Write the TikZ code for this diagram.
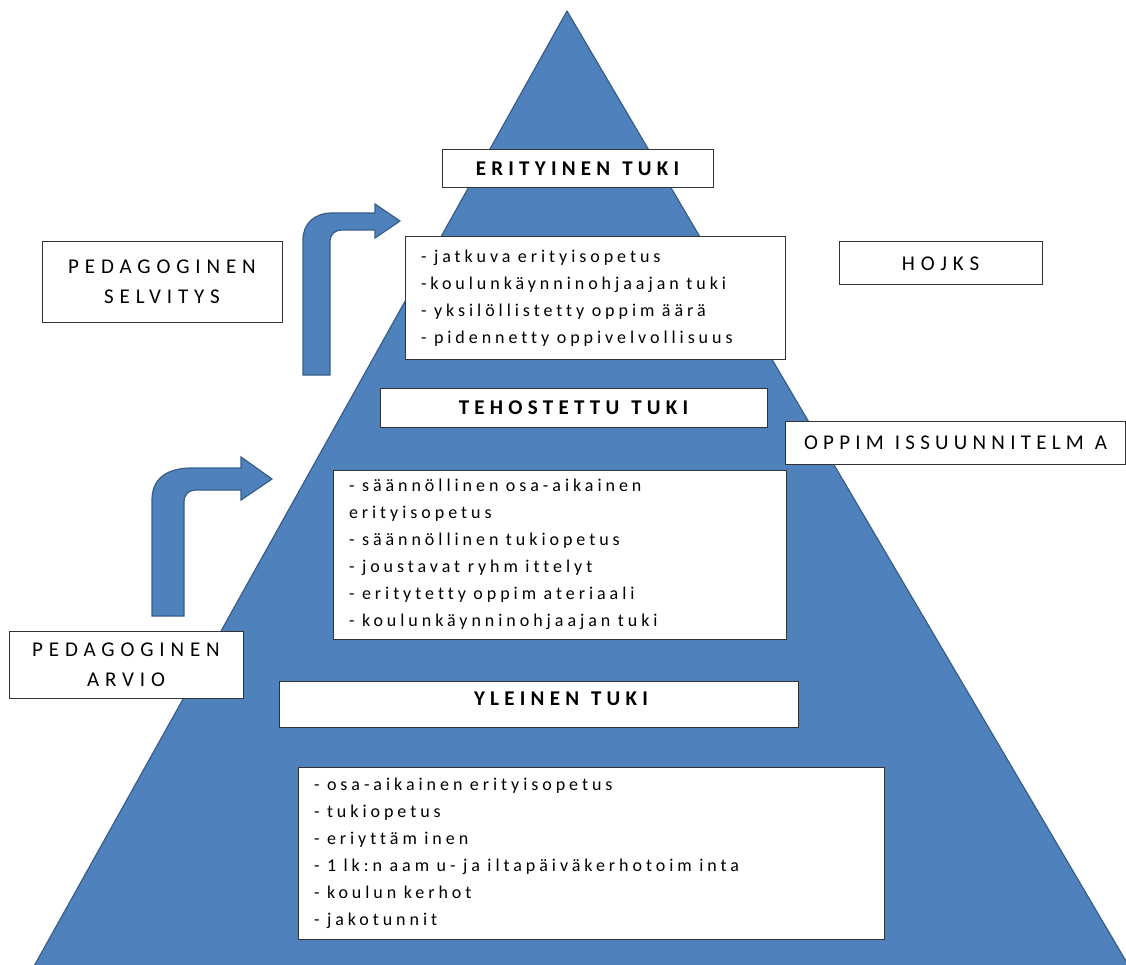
\documentclass[tikz,border=0pt]{standalone}
\usepackage{fontspec}
\setmainfont{Carlito}
\newfontfamily\listfont[LetterSpace=22,Ligatures=NoCommon]{Carlito}
\newfontfamily\capsfont[LetterSpace=25,Ligatures=NoCommon]{Carlito}
\newfontfamily\sidecapsfont[LetterSpace=28,Ligatures=NoCommon]{Carlito}
\newfontfamily\oppfont[LetterSpace=25,Ligatures=NoCommon]{Carlito}
\newcommand\mylistfont{\listfont\fontsize{18}{27}\selectfont}
\newcommand\mytierfont{\capsfont\bfseries\fontsize{21}{25}\selectfont}
\newcommand\mysidefont{\sidecapsfont\fontsize{21}{30}\selectfont}
\newcommand\myoppfont{\oppfont\fontsize{21}{30}\selectfont}
\newcommand\lgapx{\hspace*{7.5pt}}
\newcommand\tgapx{\hspace*{12pt}}
\newcommand\sgapx{\hspace*{11pt}}
\definecolor{pyrfill}{RGB}{79,129,189}
\definecolor{pyrline}{RGB}{56,93,138}
\begin{document}
\begin{tikzpicture}[x=1pt,y=-1pt,
  box/.style={draw=black!80, fill=white, line width=1pt, inner sep=0pt},
  capstext/.style={font=\mytierfont},
  tierbox/.style={box, capstext},
  sidebox/.style={box, align=center, font=\mysidefont},
  listbox/.style={box, align=left, inner xsep=16pt, font=\mylistfont},
  pyramid/.style={fill=pyrfill, draw=pyrline, line width=1.2pt, line join=round},
  bentarrow/.style={fill=pyrfill, draw=pyrline, line width=1.2pt}]
\useasboundingbox (0,0) rectangle (1126,965);
% pyramid
\draw[pyramid] (567,11) -- (1130,968) -- (33,968) -- cycle;
% bent arrows
\draw[bentarrow] (303,375) -- (303,240) .. controls (303,224) and (314,213) .. (332,213)
  -- (375,213) -- (375,204) -- (400,221) -- (375,238) -- (375,230) -- (342,230)
  .. controls (335,230) and (330,234) .. (330,242) -- (330,375) -- cycle;
\draw[bentarrow] (152,616) -- (152,500) .. controls (152,480) and (165,468) .. (192,468)
  -- (241,468) -- (241,457) -- (272,479) -- (241,500) -- (241,490) -- (196,490)
  .. controls (189,490) and (184,494) .. (184,502) -- (184,616) -- cycle;
% tier titles
\node[tierbox, minimum width=271pt, minimum height=38pt] (eri) at (577.5,169) {ERITYINEN\tgapx TUKI};
\node[tierbox, minimum width=387pt, minimum height=39pt] (teh) at (573.5,407.5) {TEHOSTETTU\tgapx TUKI};
\node[tierbox, minimum width=519pt, minimum height=46pt] (yle) at (538.5,704) {};
\node[capstext, inner sep=0pt] (yletxt) at (561,699) {YLEINEN\tgapx TUKI};
% side labels
\node[sidebox, minimum width=240pt, minimum height=80pt] (selv) at (162,282) {PEDAGOGINEN\\SELVITYS};
\node[sidebox, minimum width=234pt, minimum height=67pt] (arvio) at (126,664.5) {PEDAGOGINEN\\ARVIO};
\node[sidebox, minimum width=203pt, minimum height=43pt] (hojks) at (940.5,263.5) {HOJKS};
\node[sidebox, font=\myoppfont, minimum width=340pt, minimum height=43pt] (oppim) at (955.5,442.5) {OPPIM\sgapx ISSUUNNITELM\sgapx A};
% lists
\node[listbox, text width=348pt, minimum height=122pt] (list1) at (595,298) {%
-\lgapx jatkuva\lgapx erityisopetus\\
-koulunkäynninohjaajan\lgapx tuki\\
-\lgapx yksilöllistetty\lgapx oppim\lgapx äärä\\
-\lgapx pidennetty\lgapx oppivelvollisuus};
\node[listbox, text width=421pt, minimum height=169pt] (list2) at (559.5,554.5) {%
-\lgapx säännöllinen\lgapx osa-aikainen\\
erityisopetus\\
-\lgapx säännöllinen\lgapx tukiopetus\\
-\lgapx joustavat\lgapx ryhm\lgapx ittelyt\\
-\lgapx eritytetty\lgapx oppim\lgapx ateriaali\\
-\lgapx koulunkäynninohjaajan\lgapx tuki};
\node[listbox, text width=554pt, minimum height=172pt] (list3) at (591,853) {%
-\lgapx osa-aikainen\lgapx erityisopetus\\
-\lgapx tukiopetus\\
-\lgapx eriyttäm\lgapx inen\\
-\lgapx 1\lgapx lk:n\lgapx aam\lgapx u-\lgapx ja\lgapx iltapäiväkerhotoim\lgapx inta\\
-\lgapx koulun\lgapx kerhot\\
-\lgapx jakotunnit};
\end{tikzpicture}
\end{document}
